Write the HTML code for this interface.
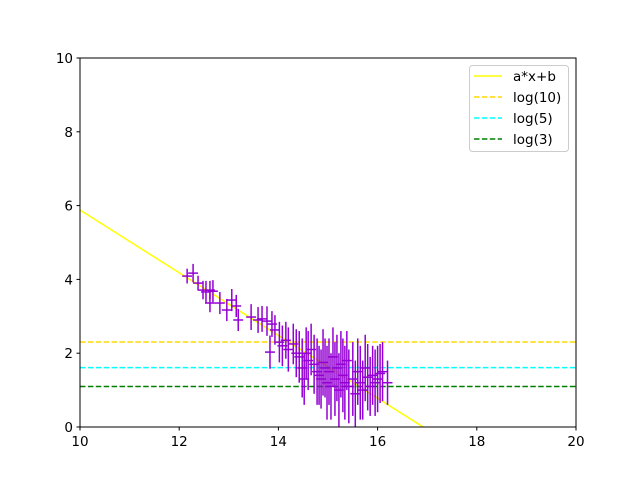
<!DOCTYPE html>
<html><head><meta charset="utf-8">
<style>
html,body{margin:0;background:#fff;width:640px;height:480px;overflow:hidden;}
svg{display:block;font-family:"DejaVu Sans","Liberation Sans",sans-serif;}
</style></head>
<body>
<svg id="chart" width="640" height="480" viewBox="0 0 640 480" xmlns="http://www.w3.org/2000/svg">
<rect width="640" height="480" fill="#fff"/>
<g id="plot"></g>
<g id="axes"></g>
<g id="legend"></g>
</svg>
<script>
const xTicks=[10,12,14,16,18,20];
const yTicks=[0,2,4,6,8,10];
const fitA=-0.85;
const fitB=14.38;
const hLines=[2.303,1.609,1.099];
const hLineLabels=["log(10)","log(5)","log(3)"];
const hLineColors=["#ffd700","#00ffff","#008000"];
const ptX=[12.16,12.28,12.38,12.48,12.54,12.62,12.68,12.62,12.82,12.96,13.06,13.15,13.19,13.45,13.59,13.67,13.77,13.87,13.93,13.83,
14.02,14.08,14.15,14.2,14.3,14.36,14.42,14.48,14.52,14.56,14.6,14.66,14.72,14.78,14.82,14.86,14.9,14.94,14.98,15.02,15.06,15.1,15.14,15.18,15.22,15.26,15.3,15.34,15.38,15.42,15.5,15.55,15.6,15.65,15.7,15.75,15.8,15.85,15.9,15.95,16.0,16.05,16.1,16.2];
const ptY=[4.09,4.17,3.9,3.71,3.66,3.71,3.68,3.36,3.36,3.17,3.44,3.28,2.9,2.98,2.9,2.93,2.87,2.79,2.63,2.03,
2.3,2.2,2.35,2.1,2.25,2.0,1.9,1.6,1.3,2.0,1.8,2.1,1.7,1.5,1.4,1.3,1.75,1.6,1.2,1.5,1.1,1.9,1.3,1.6,1.0,1.7,1.4,1.2,1.8,1.1,1.3,0.9,1.5,1.2,1.0,1.6,1.35,1.1,1.4,1.2,1.3,1.45,1.5,1.2];
const ptErr=[0.2,0.25,0.2,0.25,0.3,0.25,0.3,0.25,0.3,0.3,0.3,0.3,0.3,0.35,0.35,0.35,0.4,0.35,0.4,0.45,
0.55,0.55,0.5,0.6,0.55,0.65,0.7,0.8,0.7,0.7,0.8,0.7,0.8,0.9,0.8,0.8,0.9,0.8,1.0,0.9,0.9,0.8,1.0,0.9,1.0,0.9,1.0,1.0,0.8,1.0,1.0,0.9,0.9,1.0,0.8,0.9,0.9,0.8,0.8,0.9,0.9,0.8,0.8,0.6];
const ptXErr=0.1;
const L=80,R=576,T=58,B=427;
const sx=v=>L+(v-10)/10*(R-L);
const sy=v=>B-(v-0)/10*(B-T);
const NS="http://www.w3.org/2000/svg";
function mk(p,tag,at){const e=document.createElementNS(NS,tag);for(const k in at)e.setAttribute(k,at[k]);p.appendChild(e);return e;}
const plot=document.getElementById('plot');
const axes=document.getElementById('axes');
const leg=document.getElementById('legend');
const cp=mk(plot,'clipPath',{id:'clip'});
mk(cp,'rect',{x:L,y:T,width:R-L,height:B-T});
const g=mk(plot,'g',{'clip-path':'url(#clip)'});
const fl=mk(g,'line',{x1:sx(10),y1:sy(fitA*10+fitB),x2:sx(20),y2:sy(fitA*20+fitB),stroke:'#ffff00','stroke-width':1.5});


hLines.forEach((v,i)=>{
  const l=mk(g,'line',{x1:sx(10),y1:sy(v),x2:sx(20),y2:sy(v),stroke:hLineColors[i],'stroke-width':1.5,'stroke-dasharray':'5.5,2.4'});
  
  
});
ptX.forEach((x,i)=>{
  const y=ptY[i],e=ptErr[i];
  const pg=mk(g,'g',{stroke:'#9400d3','stroke-width':1.5});
  
  
  mk(pg,'line',{x1:sx(x),y1:sy(y-e),x2:sx(x),y2:sy(y+e)});
  mk(pg,'line',{x1:sx(x-ptXErr),y1:sy(y),x2:sx(x+ptXErr),y2:sy(y)});
});
mk(axes,'rect',{x:L,y:T,width:R-L,height:B-T,fill:'none',stroke:'#000','stroke-width':1});
xTicks.forEach(v=>{
  mk(axes,'line',{x1:sx(v),y1:B,x2:sx(v),y2:B+3.5,stroke:'#000'});
  const t=mk(axes,'text',{x:sx(v),y:B+19,'text-anchor':'middle','font-size':13.5,fill:'#000'});t.textContent=v;
  
  
});
yTicks.forEach(v=>{
  mk(axes,'line',{x1:L,y1:sy(v),x2:L-3.5,y2:sy(v),stroke:'#000'});
  const t=mk(axes,'text',{x:L-7,y:sy(v)+5,'text-anchor':'end','font-size':13.5,fill:'#000'});t.textContent=v;
  
  
});
mk(leg,'rect',{x:469.5,y:65.5,width:99,height:86,rx:3,fill:'#fff',stroke:'#ccc'});
const labels=["a*x+b"].concat(hLineLabels);
const cols=["#ffff00"].concat(hLineColors);
labels.forEach((s,i)=>{
  const y=76+i*21;
  const e=mk(leg,'g',{});
  
  
  const a={x1:474,y1:y,x2:502,y2:y,stroke:cols[i],'stroke-width':1.5};
  if(i>0)a['stroke-dasharray']='5.5,2.4';
  mk(e,'line',a);
  const t=mk(e,'text',{x:513,y:y+5,'font-size':13.5,fill:'#000'});t.textContent=s;
});
</script>
</body></html>
